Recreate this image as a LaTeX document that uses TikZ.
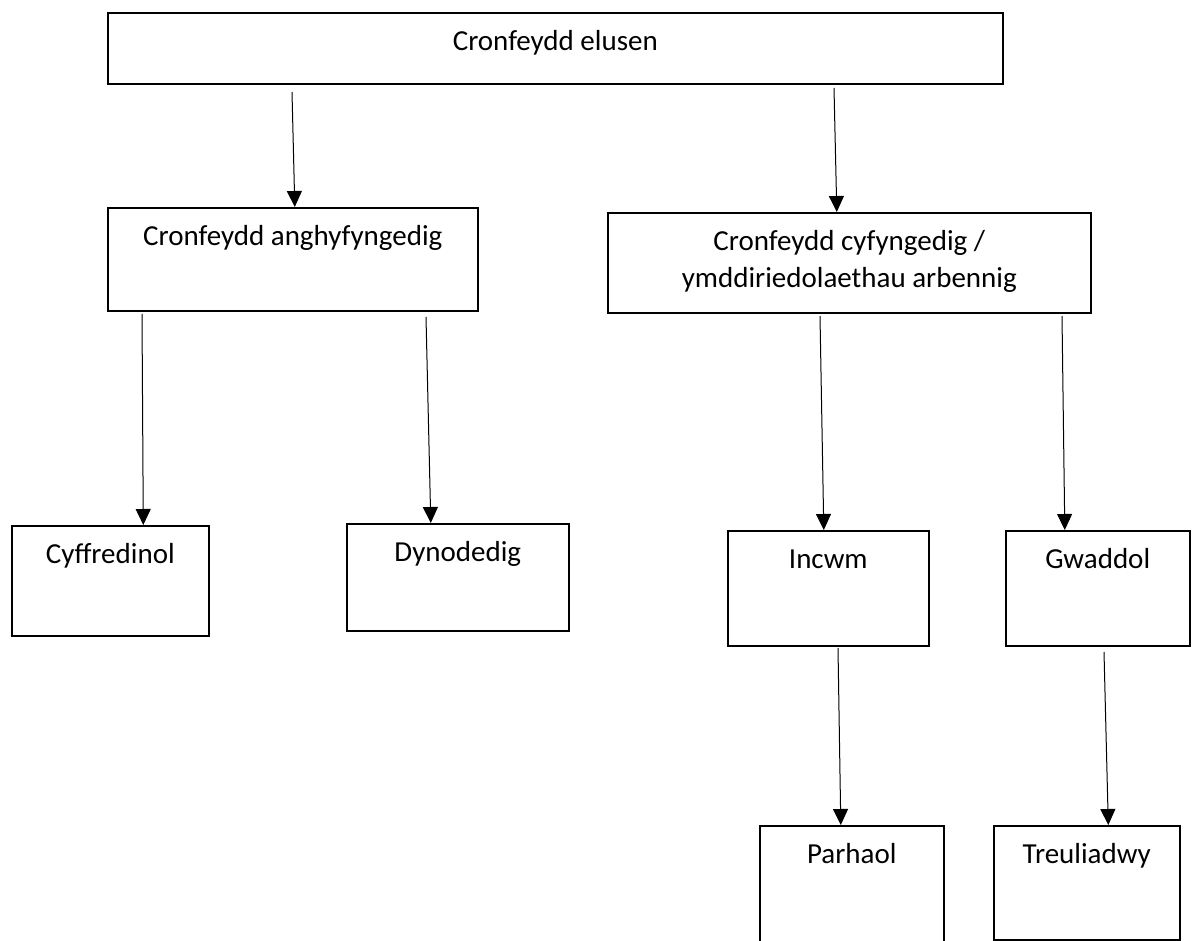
\documentclass[tikz,border=0pt]{standalone}
\usepackage{fontspec}
\setmainfont{Carlito}
\usetikzlibrary{arrows.meta}
\tikzset{
    box/.style={rectangle, draw, line width=1.6pt, inner sep=0pt, anchor=north west}
}
\tikzset{lbl/.style={anchor=base, inner sep=0pt, yshift=-38.5pt, align=center, font=\fontsize{29}{37}\selectfont}}
\tikzset{arr/.style={line width=1pt, -{Triangle[length=16pt, width=15pt]}}}

\begin{document}
\begin{tikzpicture}[x=1pt, y=-1pt]
    \useasboundingbox (0,0) rectangle (1192,941);

    \node (elusen) at (107,12) [box, minimum width=895pt, minimum height=71pt, label={[lbl]north:Cronfeydd elusen}] {};

    \node (angh) at (107,207) [box, minimum width=370pt, minimum height=103pt, label={[lbl]north:Cronfeydd anghyfyngedig}] {};
    \node (cyf) at (607,212) [box, minimum width=483pt, minimum height=100pt, label={[lbl, yshift=-37pt]north:Cronfeydd cyfyngedig /\\ymddiriedolaethau arbennig}] {};

    \node (cyff) at (11,525) [box, minimum width=197pt, minimum height=110pt, label={[lbl]north:Cyffredinol}] {};
    \node (dyn) at (346,523) [box, minimum width=222pt, minimum height=107pt, label={[lbl]north:Dynodedig}] {};
    \node (incwm) at (727,530) [box, minimum width=201pt, minimum height=115pt, label={[lbl]north:Incwm}] {};
    \node (gwad) at (1005,530) [box, minimum width=184pt, minimum height=115pt, label={[lbl]north:Gwaddol}] {};

    \node (parh) at (759,825) [box, minimum width=184pt, minimum height=135pt, label={[lbl]north:Parhaol}] {};
    \node (treul) at (993,825) [box, minimum width=186pt, minimum height=114pt, label={[lbl]north:Treuliadwy}] {};

    % arrows start a little below each box
    \coordinate (s1) at (292,92);
    \coordinate (s2) at (834,88);
    \coordinate (s3) at (142,314);
    \coordinate (s4) at (426,317);
    \coordinate (s5) at (820,316);
    \coordinate (s6) at (1062,316);
    \coordinate (s7) at (838,648);
    \coordinate (s8) at (1104,652);

    \draw[arr] (s1) -- ([xshift=2pt]angh.north);
    \draw[arr] (s2) -- ([xshift=-12.5pt]cyf.north);
    \draw[arr] (s3) -- ([xshift=33pt]cyff.north);
    \draw[arr] (s4) -- ([xshift=-27pt]dyn.north);
    \draw[arr] (s5) -- ([xshift=-4.5pt]incwm.north);
    \draw[arr] (s6) -- ([xshift=-33pt]gwad.north);
    \draw[arr] (s7) -- ([xshift=-11pt]parh.north);
    \draw[arr] (s8) -- ([xshift=21.5pt]treul.north);
\end{tikzpicture}
\end{document}
